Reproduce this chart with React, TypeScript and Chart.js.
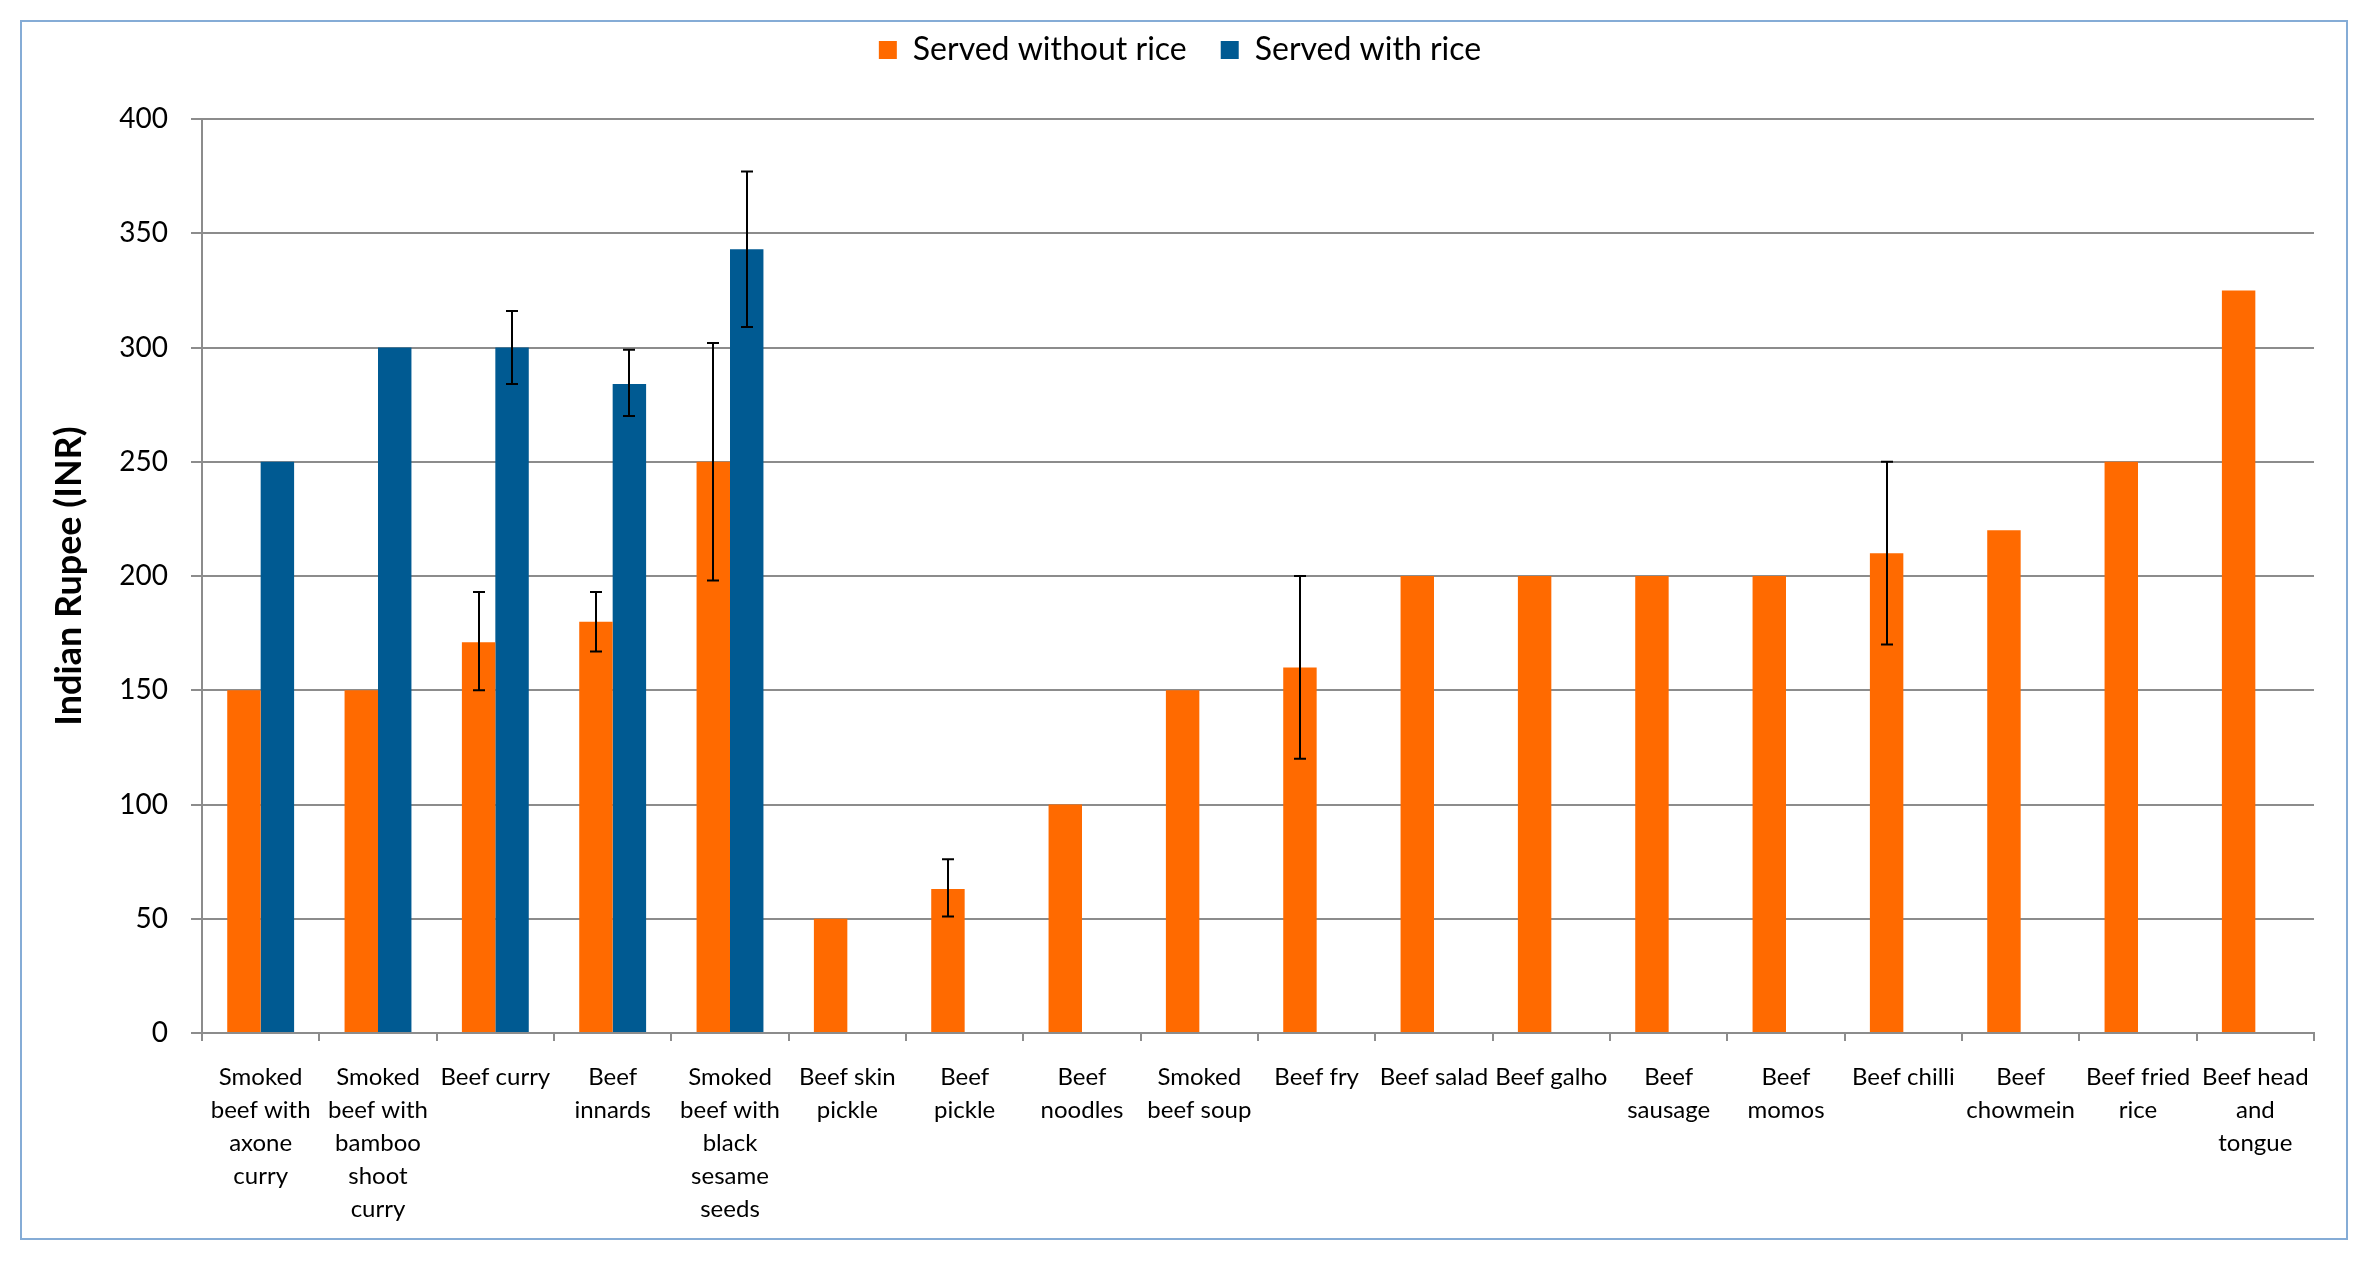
import { Chart, registerables, Plugin } from 'chart.js';
import React, { useEffect, useRef } from 'react';

Chart.register(...registerables);

const dishes: string[][] = [
  ['Smoked', 'beef with', 'axone', 'curry'],
  ['Smoked', 'beef with', 'bamboo', 'shoot', 'curry'],
  ['Beef curry'],
  ['Beef', 'innards'],
  ['Smoked', 'beef with', 'black', 'sesame', 'seeds'],
  ['Beef skin', 'pickle'],
  ['Beef', 'pickle'],
  ['Beef', 'noodles'],
  ['Smoked', 'beef soup'],
  ['Beef fry'],
  ['Beef salad'],
  ['Beef galho'],
  ['Beef', 'sausage'],
  ['Beef', 'momos'],
  ['Beef chilli'],
  ['Beef', 'chowmein'],
  ['Beef fried', 'rice'],
  ['Beef head', 'and', 'tongue'],
];

const withoutRice = [150, 150, 171, 180, 250, 50, 63, 100, 150, 160, 200, 200, 200, 200, 210, 220, 250, 325];
const withRice = [250, 300, 300, 284, 343, null, null, null, null, null, null, null, null, null, null, null, null, null];

// error bar ends (low / high), null = no bar
const withoutRiceLow = [null, null, 150, 167, 198, null, 51, null, null, 120, null, null, null, null, 170, null, null, null];
const withoutRiceHigh = [null, null, 193, 193, 302, null, 76, null, null, 200, null, null, null, null, 250, null, null, null];
const withRiceLow = [null, null, 284, 270, 309, null, null, null, null, null, null, null, null, null, null, null, null, null];
const withRiceHigh = [null, null, 316, 299, 377, null, null, null, null, null, null, null, null, null, null, null, null, null];

const yTicks = [0, 50, 100, 150, 200, 250, 300, 350, 400];

const errorBounds = [
  [withoutRiceLow, withoutRiceHigh],
  [withRiceLow, withRiceHigh],
];

const errorBars: Plugin = {
  id: 'errorBars',
  afterDatasetsDraw(chart) {
    const ctx = chart.ctx;
    const y = chart.scales.y;
    ctx.save();
    ctx.strokeStyle = '#000';
    ctx.lineWidth = 2;
    errorBounds.forEach(([lows, highs], di) => {
      const meta = chart.getDatasetMeta(di);
      meta.data.forEach((bar: any, i: number) => {
        const lo = lows[i];
        const hi = highs[i];
        if (lo == null || hi == null) return;
        const x = Math.round(bar.x);
        const yl = y.getPixelForValue(lo);
        const yh = y.getPixelForValue(hi);
        ctx.beginPath();
        ctx.moveTo(x, yl);
        ctx.lineTo(x, yh);
        ctx.moveTo(x - 6, yl);
        ctx.lineTo(x + 6, yl);
        ctx.moveTo(x - 6, yh);
        ctx.lineTo(x + 6, yh);
        ctx.stroke();
      });
    });
    ctx.restore();
  },
};

// extra room between the legend and the plot
const legendSpace: Plugin = {
  id: 'legendSpace',
  beforeInit(chart: any) {
    const fit = chart.legend.fit;
    chart.legend.fit = function () {
      fit.bind(chart.legend)();
      this.height += 43;
    };
  },
};

const App: React.FC = () => {
  const canvasRef = useRef<HTMLCanvasElement | null>(null);

  useEffect(() => {
    document.body.style.margin = '0';
    const canvas = canvasRef.current;
    if (!canvas) return;

    const chart = new Chart(canvas, {
      type: 'bar',
      data: {
        labels: dishes,
        datasets: [
          {
            label: 'Served without rice',
            data: withoutRice,
            backgroundColor: '#ff6a00',
            categoryPercentage: 0.57,
            barPercentage: 1,
          },
          {
            label: 'Served with rice',
            data: withRice,
            backgroundColor: '#005a92',
            categoryPercentage: 0.57,
            barPercentage: 1,
          },
        ],
      },
      options: {
        animation: false,
        responsive: false,
        devicePixelRatio: 1,
        layout: { padding: { left: 46, right: 55, top: 0, bottom: 20 } },
        plugins: {
          tooltip: { enabled: false },
          legend: {
            position: 'top',
            labels: {
              boxWidth: 18,
              boxHeight: 18,
              padding: 34,
              color: '#000',
              font: { family: 'Lato', size: 32 },
            },
          },
        },
        scales: {
          x: {
            offset: true,
            grid: {
              offset: true,
              drawOnChartArea: false,
              tickLength: 8,
              color: '#8c8c8c',
              lineWidth: 2,
            },
            border: { color: '#8c8c8c', width: 2 },
            ticks: {
              autoSkip: false,
              maxRotation: 0,
              minRotation: 0,
              padding: 20,
              color: '#000',
              font: { family: 'Lato', size: 24, lineHeight: 1.375 },
            },
            afterFit(scale) {
              scale.height = 1265 - 1033 - 20;
            },
          },
          y: {
            min: 0,
            max: 400,
            afterBuildTicks(scale) {
              scale.ticks = yTicks.map((v) => ({ value: v }));
            },
            grid: { color: '#8c8c8c', lineWidth: 2, tickLength: 11 },
            border: { color: '#8c8c8c', width: 2 },
            ticks: {
              padding: 23,
              color: '#000',
              font: { family: 'Lato', size: 28 },
            },
            title: {
              display: true,
              text: 'Indian Rupee (INR)',
              color: '#000',
              padding: { top: 2, bottom: 0 },
              font: { family: 'Lato', size: 36, weight: 'bold', lineHeight: 1.2 },
            },
            afterFit(scale) {
              scale.width = 202 - 46;
            },
          },
        },
      },
      plugins: [errorBars, legendSpace],
    });

    return () => {
      chart.destroy();
    };
  }, []);

  return (
    <div style={{ position: 'relative', width: 2369, height: 1265, background: '#fff' }}>
      <div
        style={{
          position: 'absolute',
          left: 20,
          top: 20,
          width: 2328,
          height: 1220,
          border: '2px solid #85acd6',
          boxSizing: 'border-box',
        }}
      />
      <canvas ref={canvasRef} width={2369} height={1265} style={{ position: 'absolute', left: 0, top: 0 }} />
    </div>
  );
};

export default App;
